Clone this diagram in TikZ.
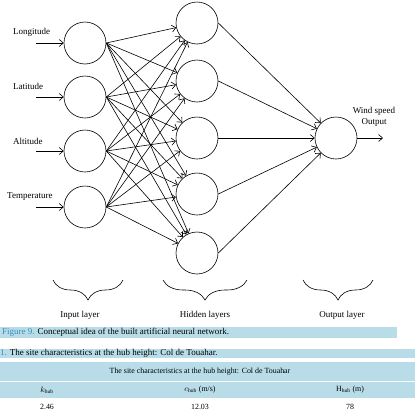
\documentclass[tikz,border=0pt]{standalone}
\usepackage{fontspec}
\setmainfont{Liberation Serif}
\usetikzlibrary{arrows.meta,decorations.pathreplacing}
\definecolor{barblue}{HTML}{B8DDE9}
\definecolor{figblue}{HTML}{3A8DBA}
\begin{document}
\begin{tikzpicture}[x=1pt,y=-1pt,
  neuron/.style={draw,circle,minimum size=42pt,inner sep=0pt,line width=0.6pt},
  conn/.style={line width=0.6pt,-{Straight Barb[length=4pt,width=7pt,line width=0.6pt]}},
  lbl/.style={font=\fontsize{9}{10}\selectfont,inner sep=0pt},
  tbl/.style={inner sep=0pt,font=\fontsize{7.9}{9}\selectfont},
  brc/.style={decorate,decoration={brace,mirror,amplitude=20pt},line width=0.6pt},
  bar/.style={fill=barblue,draw=none}]
\useasboundingbox (0,0) rectangle (415,410);
% input neurons
\node[neuron] (i1) at (85,43) {};
\node[neuron] (i2) at (85,97) {};
\node[neuron] (i3) at (85,151) {};
\node[neuron] (i4) at (85,207) {};
% hidden neurons
\node[neuron] (h1) at (197,23) {};
\node[neuron] (h2) at (197,81) {};
\node[neuron] (h3) at (197,138) {};
\node[neuron] (h4) at (197,194) {};
\node[neuron] (h5) at (197,253) {};
% output neuron
\node[neuron] (o) at (336,138) {};
% input labels
\node[lbl,anchor=west] (l1) at (13,32) {Longitude};
\node[lbl,anchor=west] (l2) at (13,86) {Latitude};
\node[lbl,anchor=west] (l3) at (13,141) {Altitude};
\node[lbl,anchor=west] (l4) at (7,197) {Temperature};
\coordinate (a1) at (36,43);
\coordinate (a2) at (36,97);
\coordinate (a3) at (36,151);
\coordinate (a4) at (36,207);
\foreach \k in {1,...,4} \draw[conn] (a\k) -- (i\k.west);
% input -> hidden
\foreach \i in {1,...,4}
  \foreach \h in {1,...,5}
    \draw[conn] (i\i.east) -- (h\h);
% hidden -> output
\foreach \h in {1,...,5} \draw[conn] (h\h.east) -- (o);
% output
\coordinate (oend) at (383,138);
\draw[conn] (o.east) -- (oend);
\node[lbl,align=center] (ol) at (374,117) {Wind speed\\[1pt]Output};
% braces
\coordinate (b1s) at (53,280); \coordinate (b1e) at (123,280);
\coordinate (b2s) at (163,280); \coordinate (b2e) at (247,280);
\coordinate (b3s) at (303,280); \coordinate (b3e) at (373,280);
\draw[brc] (b1s) -- (b1e);
\draw[brc] (b2s) -- (b2e);
\draw[brc] (b3s) -- (b3e);
\node[lbl] (t1) at (80,315) {Input layer};
\node[lbl] (t2) at (205,315) {Hidden layers};
\node[lbl] (t3) at (342,315) {Output layer};
% caption
\fill[bar] (0,327) rectangle (397,337.5);
\node[lbl,anchor=west,font=\fontsize{9}{10}\selectfont] (cap) at (2,332.5) {\textcolor{figblue}{Figure 9.} Conceptual idea of the built artificial neural network.};
\fill[bar] (0,348.5) rectangle (415,358);
\node[lbl,anchor=west,font=\fontsize{9}{10}\selectfont] (tt) at (0,353.5) {\textcolor{figblue}{1.} The site characteristics at the hub height: Col de Touahar.};
% table
\fill[bar] (0,362) rectangle (415,380.5);
\fill[bar] (0,382) rectangle (415,398);
\node[tbl] (th) at (200,372) {The site characteristics at the hub height: Col de Touahar};
\node[tbl] (c1) at (47,390) {$k_{\mathrm{hub}}$};
\node[tbl] (c2) at (200,390) {$c_{\mathrm{hub}}$ (m/s)};
\node[tbl] (c3) at (350,390) {H$_{\mathrm{hub}}$ (m)};
\node[tbl] (v1) at (47,407) {2.46};
\node[tbl] (v2) at (200,407) {12.03};
\node[tbl] (v3) at (350,407) {78};
\end{tikzpicture}
\end{document}
